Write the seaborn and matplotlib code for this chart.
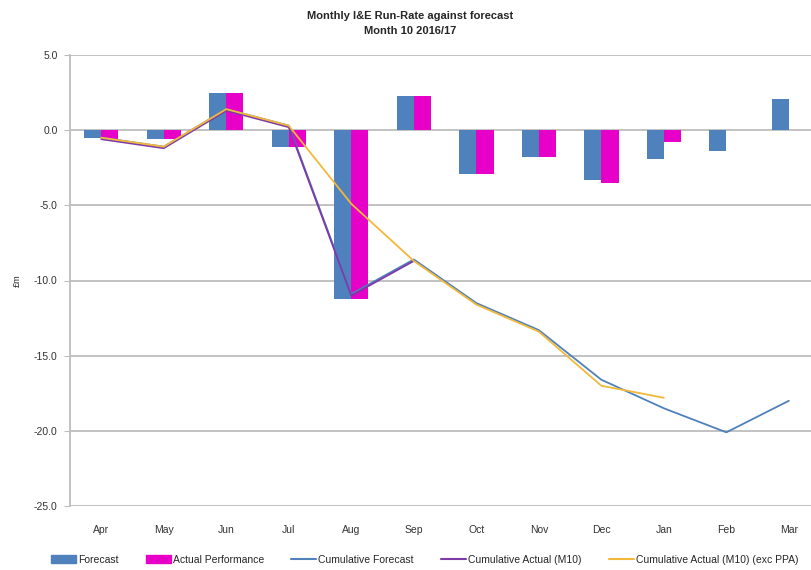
import numpy as np
import pandas as pd
import matplotlib
matplotlib.use("Agg")
import matplotlib.pyplot as plt
import seaborn as sns
from matplotlib.patches import Patch
from matplotlib.lines import Line2D

months = ["Apr", "May", "Jun", "Jul", "Aug", "Sep", "Oct", "Nov", "Dec", "Jan", "Feb", "Mar"]

# monthly bars (£m)
forecast = [-0.5, -0.6, 2.5, -1.1, -11.2, 2.3, -2.9, -1.8, -3.3, -1.9, -1.4, 2.1]
actual = [-0.6, -0.6, 2.5, -1.1, -11.2, 2.3, -2.9, -1.8, -3.5, -0.8, np.nan, np.nan]

# cumulative lines (£m)
cum_forecast = [-0.5, -1.1, 1.4, 0.3, -10.9, -8.6, -11.5, -13.3, -16.6, -18.5, -20.1, -18.0]
cum_actual = [-0.6, -1.2, 1.3, 0.2, -11.0, -8.7, np.nan, np.nan, np.nan, np.nan, np.nan, np.nan]
cum_actual_exc = [-0.5, -1.1, 1.4, 0.3, -4.9, -8.7, -11.6, -13.4, -17.0, -17.8, np.nan, np.nan]

bar_labels = ["Forecast", "Actual Performance"]
line_labels = ["Cumulative Forecast", "Cumulative Actual (M10)", "Cumulative Actual (M10) (exc PPA)"]

c_fc = "#4F81BD"
c_act = "#E600C8"
c_cum_act = "#7E3AA8"
c_exc = "#F2B83A"

bars = pd.DataFrame({
    "Month": months * 2,
    "Series": [bar_labels[0]] * 12 + [bar_labels[1]] * 12,
    "Value": forecast + actual,
})

sns.set_style("white")
plt.rcParams["font.family"] = ["Liberation Sans", "DejaVu Sans"]

fig = plt.figure(figsize=(8.12, 5.70), dpi=100)
ax = fig.add_axes([70 / 812, 64 / 570, 742 / 812, 451 / 570])

for y in np.arange(-25, 6, 5):
    ax.axhline(y, color="#BDBDBD", lw=1.3, zorder=0)

sns.barplot(data=bars, x="Month", y="Value", hue="Series", order=months,
            palette={bar_labels[0]: c_fc, bar_labels[1]: c_act},
            width=0.55, saturation=1, linewidth=0, legend=False, ax=ax, zorder=2)

pos = np.arange(len(months))
for vals, col, lab in [(cum_forecast, c_fc, line_labels[0]),
                       (cum_actual, c_cum_act, line_labels[1]),
                       (cum_actual_exc, c_exc, line_labels[2])]:
    df = pd.DataFrame({"x": pos, "y": vals}).dropna()
    sns.lineplot(data=df, x="x", y="y", color=col, lw=1.3, ax=ax, zorder=3)

ax.set_xlim(-0.5, 11.37)
ax.set_ylim(-25, 5)
ax.set_yticks(np.arange(-25, 6, 5))
ax.set_yticklabels([f"{v:.1f}" for v in np.arange(-25, 6, 5)], fontsize=7.5, color="#333333")
ax.set_xticks(pos)
ax.set_xticklabels(months, fontsize=7.5, color="#333333")
ax.tick_params(axis="x", length=0, pad=14)
ax.tick_params(axis="y", length=4, color="#BDBDBD", left=True, pad=5)
ax.set_xlabel("")
ax.set_ylabel("£m", fontsize=6.5, labelpad=9)
for s in ["top", "right", "bottom"]:
    ax.spines[s].set_visible(False)
ax.spines["left"].set_color("#BDBDBD")
ax.spines["left"].set_linewidth(1.3)

fig.text(0.505, 0.972, "Monthly I&E Run-Rate against forecast", ha="center", va="center",
         fontsize=8, fontweight="bold")
fig.text(0.505, 0.945, "Month 10 2016/17", ha="center", va="center",
         fontsize=8, fontweight="bold")

handles = [Patch(color=c_fc), Patch(color=c_act),
           Line2D([], [], color=c_fc, lw=1.5),
           Line2D([], [], color=c_cum_act, lw=1.5),
           Line2D([], [], color=c_exc, lw=1.5)]
fig.legend(handles, bar_labels + line_labels, loc="center", bbox_to_anchor=(0.523, 0.018),
           ncol=5, frameon=False, fontsize=7.5, columnspacing=2.6, handlelength=2.4,
           handletextpad=0.2, handleheight=0.7)

fig.savefig("out.png", dpi=100)
